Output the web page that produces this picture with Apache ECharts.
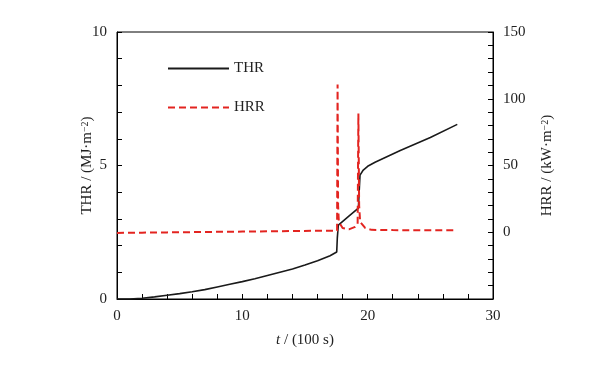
<!DOCTYPE html>
<html><head><meta charset="utf-8">
<script src="https://cdn.jsdelivr.net/npm/echarts@6/dist/echarts.min.js"></script>
<style>html,body{margin:0;padding:0;background:#fff}#c{width:593px;height:365px}</style>
</head><body><div id="c"></div>
<script>
var thrTime = [0, 1, 2, 3, 4, 5, 6, 7, 8, 9, 10, 11, 12, 13, 14, 15, 16, 17, 17.53, 17.58, 17.66, 18.5, 19.26, 19.32, 19.39, 19.65, 20.0, 20.59, 22.6, 25, 27.15];
var thrValue = [0, 0.0, 0.03, 0.08, 0.14, 0.2, 0.27, 0.35, 0.45, 0.55, 0.65, 0.76, 0.88, 1.0, 1.12, 1.27, 1.43, 1.62, 1.76, 2.3, 2.77, 3.1, 3.4, 4.0, 4.64, 4.83, 4.97, 5.12, 5.56, 6.05, 6.54];
var hrrTime = [0, 2, 4, 6, 8, 10, 12, 14, 16, 17.56, 17.6, 17.64, 17.7, 18.0, 18.5, 19.0, 19.2, 19.26, 19.32, 19.4, 19.8, 20.3, 22, 25, 27.15];
var hrrValue = [-0.5, -0.3, -0.1, 0.1, 0.3, 0.5, 0.7, 0.9, 1.1, 1.2, 110.6, 20, 7.7, 3.2, 2.2, 4.0, 6, 89, 20, 7.7, 3.2, 1.8, 1.6, 1.5, 1.5];
var xTickLabels = [0, 10, 20, 30];
var thrTickLabels = [0, 5, 10];
var hrrTickLabels = [0, 50, 100, 150];

function pairs(a, b) { return a.map(function (t, i) { return [t, b[i]]; }); }
var FONT = 'Liberation Serif';
var chart = echarts.init(document.getElementById('c'), null, {renderer: 'canvas'});
var axisCommon = {
  axisLine: {show: true, lineStyle: {color: '#000', width: 1}},
  axisTick: {show: true, inside: true, length: 5, lineStyle: {color: '#000'}},
  splitLine: {show: false},
  axisLabel: {color: '#222', fontFamily: FONT, fontSize: 15}
};
var rich = {
  a: {fontFamily: FONT, fontSize: 15, color: '#222'},
  i: {fontFamily: FONT, fontSize: 15, color: '#222', fontStyle: 'italic'},
  s: {fontFamily: FONT, fontSize: 10, color: '#222', verticalAlign: 'top', padding: [0, 0, 0, 0]}
};
var nameStyle = {fontFamily: FONT, fontSize: 15, color: '#222', rich: rich};
chart.setOption({
  animation: false,
  backgroundColor: '#fff',
  grid: {left: 117, right: 100, top: 32, bottom: 66, show: true, borderColor: '#000', borderWidth: 1},
  legend: {
    orient: 'vertical', left: 162, top: 56, itemWidth: 61, itemHeight: 14, itemGap: 24,
    itemStyle: {opacity: 0},
    textStyle: {fontFamily: FONT, fontSize: 15, color: '#222'},
    data: ['THR', 'HRR']
  },
  xAxis: Object.assign({}, axisCommon, {
    type: 'value', min: 0, max: 30, interval: 2,
    axisLabel: Object.assign({}, axisCommon.axisLabel, {margin: 10, formatter: function (v) { return xTickLabels.indexOf(v) >= 0 ? String(v) : ''; }}),
    name: '{i|t}{a| / (100 s)}', nameLocation: 'middle', nameGap: 34, nameMoveOverlap: false,
    nameTextStyle: nameStyle
  }),
  yAxis: [
    Object.assign({}, axisCommon, {
      type: 'value', min: 0, max: 10, interval: 1, position: 'left',
      axisLabel: Object.assign({}, axisCommon.axisLabel, {margin: 10, formatter: function (v) { return thrTickLabels.indexOf(v) >= 0 ? String(v) : ''; }}),
      name: '{a|THR / (MJ·m}{s|−2}{a|)}', nameLocation: 'middle', nameGap: 22, nameRotate: 90, nameMoveOverlap: false,
      nameTextStyle: nameStyle
    }),
    Object.assign({}, axisCommon, {
      type: 'value', min: -50, max: 150, interval: 10, position: 'right',
      axisLabel: Object.assign({}, axisCommon.axisLabel, {margin: 10, formatter: function (v) { return hrrTickLabels.indexOf(v) >= 0 ? String(v) : ''; }}),
      name: '{a|HRR / (kW·m}{s|−2}{a|)}', nameLocation: 'middle', nameGap: 47, nameRotate: 90, nameMoveOverlap: false,
      nameTextStyle: nameStyle
    })
  ],
  series: [
    {name: 'THR', type: 'line', yAxisIndex: 0, symbol: 'none', data: pairs(thrTime, thrValue),
     lineStyle: {color: '#1a1a1a', width: 1.6}, itemStyle: {color: '#1a1a1a'}},
    {name: 'HRR', type: 'line', yAxisIndex: 1, symbol: 'none', data: pairs(hrrTime, hrrValue),
     lineStyle: {color: '#e32420', width: 2, type: [7, 4]}, itemStyle: {color: '#e32420'}}
  ]
});
</script></body></html>
